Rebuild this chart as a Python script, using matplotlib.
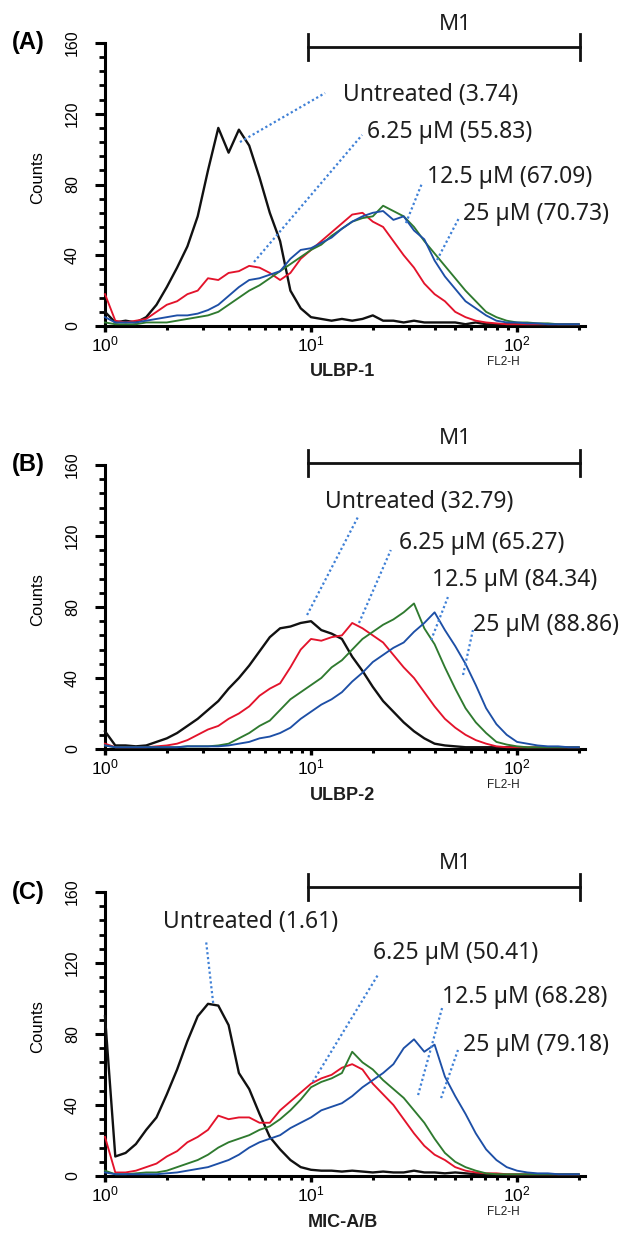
import numpy as np
import matplotlib
matplotlib.use('Agg')
import matplotlib.pyplot as plt
from matplotlib.ticker import FixedLocator, MultipleLocator, NullFormatter
from matplotlib import transforms

# ---------------- data (log10 of fluorescence channel, 0 .. 2.30) ----------------
log_channel = [round(0.05 * i, 2) for i in range(47)]

# Panel A : ULBP-1
A_untreated = [8, 2, 3, 2, 5, 12, 22, 33, 45, 62, 88, 112, 98, 111, 102, 84, 64, 48, 20, 10,
               5, 4, 3, 4, 3, 4, 6, 3, 3, 2, 3, 2, 2, 2, 2, 1, 2, 1, 1, 1, 1, 0.5, 0.5, 0.5, 0.5, 0.5, 0.5]
A_red = [18, 3, 2, 3, 4, 8, 12, 14, 18, 20, 27, 26, 30, 31, 34, 33, 30, 26, 30, 38,
         43, 48, 53, 58, 63, 64, 59, 56, 48, 40, 33, 24, 18, 14, 8, 5, 3, 2, 1.5, 1, 1, 1, 1, 1, 1, 1, 1]
A_green = [2, 1, 1, 1, 2, 2, 2, 3, 4, 5, 6, 8, 12, 16, 20, 23, 27, 31, 35, 39,
           43, 46, 51, 55, 59, 61, 62, 68, 65, 62, 56, 48, 41, 34, 27, 20, 14, 8, 5, 3, 2, 2, 1.5, 1.5, 1, 1, 1]
A_blue = [5, 2, 2, 2, 3, 4, 5, 6, 6, 7, 9, 12, 17, 22, 26, 27, 29, 31, 38, 43,
          44, 47, 50, 55, 59, 62, 64, 65, 60, 62, 54, 49, 37, 28, 21, 14, 10, 6, 3, 2, 2, 1.5, 1.5, 1, 1, 1, 1]

# Panel B : ULBP-2
B_untreated = [10, 2, 2, 1.5, 2, 4, 6, 9, 13, 17, 22, 27, 34, 40, 47, 55, 63, 68, 69, 71,
               72, 67, 65, 62, 52, 44, 35, 27, 21, 15, 10, 6, 3, 2, 1.5, 1, 1, 1, 1, 1, 1, 0.5, 0.5, 0.5, 0.5, 0.5, 0.5]
B_red = [3, 1, 1, 1, 1, 1.5, 2, 3, 5, 8, 11, 13, 17, 20, 24, 30, 34, 37, 46, 56,
         62, 61, 63, 64, 71, 68, 64, 60, 53, 46, 40, 32, 24, 17, 12, 8, 5, 3, 1.5, 1, 1, 1, 1, 1, 1, 1, 1]
B_green = [2, 1, 1, 1, 1, 1, 1, 1, 1.5, 1.5, 1.5, 2, 3, 6, 9, 13, 16, 22, 28, 32,
           36, 40, 46, 50, 56, 62, 66, 70, 73, 77, 82, 68, 59, 46, 34, 23, 15, 9, 4, 2.5, 1.5, 1, 1, 1, 1, 1, 1]
B_blue = [2, 1, 1, 1, 1, 1, 1, 1, 1.5, 1.5, 1.5, 1.5, 2, 3, 4, 6, 7, 9, 12, 17,
          21, 25, 28, 32, 38, 43, 49, 53, 57, 60, 66, 71, 77, 67, 58, 48, 36, 23, 14, 8, 4, 3, 2, 1.5, 1.5, 1, 1]

# Panel C : MIC-A/B
C_untreated = [90, 11, 13, 18, 26, 33, 46, 60, 76, 90, 97, 96, 85, 58, 49, 35, 22, 15, 9, 5,
               3.5, 3, 3, 2.5, 3, 2.5, 2, 2.5, 2, 2, 3, 2, 2, 1.5, 2, 1.5, 1, 1, 1, 0.5, 0.5, 0.5, 0.5, 0.5, 0.5, 0.5, 0.5]
C_red = [22, 2, 2, 3, 5, 7, 11, 14, 19, 22, 26, 34, 32, 33, 33, 30, 30, 37, 42, 47,
         52, 55, 57, 61, 63, 60, 52, 46, 40, 32, 24, 17, 12, 9, 5, 3, 2, 1.5, 1.5, 1, 1, 1, 1, 1, 1, 1, 1]
C_green = [3, 1, 1, 1.5, 2, 2, 3, 5, 7, 9, 12, 16, 19, 21, 23, 26, 28, 32, 37, 43,
           50, 53, 55, 58, 70, 64, 60, 54, 49, 44, 37, 30, 21, 13, 8, 5, 3, 1.5, 1, 1, 1, 1, 1, 1, 1, 1, 1]
C_blue = [2, 1, 1, 1, 1, 1, 1.5, 2, 3, 4, 5, 7, 9, 12, 16, 19, 21, 23, 27, 30,
          33, 37, 39, 41, 45, 50, 54, 58, 63, 72, 77, 70, 74, 56, 45, 35, 24, 15, 9, 5, 3, 2, 1.5, 1.5, 1, 1, 1]

panel_letters = ['(A)', '(B)', '(C)']
marker_names = ['ULBP-1', 'ULBP-2', 'MIC-A/B']
series_colors = ['#111111', '#e3132b', '#2f7a2f', '#1d4fa6']

# annotation labels (text) and their anchor positions (fluorescence, counts)
A_labels = ['Untreated (3.74)', '6.25 \u00b5M (55.83)', '12.5 \u00b5M (67.09)', '25 \u00b5M (70.73)']
B_labels = ['Untreated (32.79)', '6.25 \u00b5M (65.27)', '12.5 \u00b5M (84.34)', '25 \u00b5M (88.86)']
C_labels = ['Untreated (1.61)', '6.25 \u00b5M (50.41)', '12.5 \u00b5M (68.28)', '25 \u00b5M (79.18)']
A_text_x = [14.3, 18.7, 36.6, 54.7]
A_text_y = [130.6, 109.7, 84.2, 63.3]
B_text_x = [11.7, 26.7, 38.7, 61.1]
B_text_y = [139.2, 116.1, 95.2, 69.9]
C_text_x = [1.91, 20.0, 43.3, 54.7]
C_text_y = [143.1, 125.6, 100.9, 73.8]
# leader lines: (x0, y0) on curve -> (x1, y1) near text
A_lead_x0 = [4.52, 5.29, 28.9, 40.9]
A_lead_y0 = [104.0, 36.2, 58.2, 37.3]
A_lead_x1 = [11.7, 17.7, 34.6, 52.3]
A_lead_y1 = [131.7, 108.0, 80.8, 61.1]
B_lead_x0 = [9.57, 17.1, 38.3, 54.7]
B_lead_y0 = [75.5, 71.0, 61.4, 41.7]
B_lead_x1 = [16.9, 24.4, 46.2, 61.1]
B_lead_y1 = [130.7, 112.1, 85.6, 67.0]
C_lead_x0 = [3.35, 10.2, 33.1, 42.8]
C_lead_y0 = [97.5, 53.0, 45.6, 43.9]
C_lead_x1 = [3.09, 21.1, 43.3, 51.7]
C_lead_y1 = [133.0, 113.2, 94.7, 71.0]

# M1 gate
M1_range = [9.67, 202.0]
M1_bar_y = [157.7, 161.1, 162.8]
M1_text_y = [170.2, 175.2, 176.3]

# ---------------- figure ----------------
W, H = 630, 1234
fig = plt.figure(figsize=(W / 100, H / 100), dpi=100)
frames = [(105, 585, 43, 326), (105, 585, 465, 749), (105, 585, 892, 1176)]

text_font = ['Noto Sans', 'DejaVu Sans']
narrow_font = ['Liberation Sans Narrow', 'Liberation Sans', 'DejaVu Sans']
arial = ['Liberation Sans', 'DejaVu Sans']
lead_color = '#3f80d6'
text_color = '#1e1e1e'

all_series = [[A_untreated, A_red, A_green, A_blue],
              [B_untreated, B_red, B_green, B_blue],
              [C_untreated, C_red, C_green, C_blue]]
all_labels = [A_labels, B_labels, C_labels]
all_tx = [A_text_x, B_text_x, C_text_x]
all_ty = [A_text_y, B_text_y, C_text_y]
all_lead = [(A_lead_x0, A_lead_y0, A_lead_x1, A_lead_y1),
            (B_lead_x0, B_lead_y0, B_lead_x1, B_lead_y1),
            (C_lead_x0, C_lead_y0, C_lead_x1, C_lead_y1)]

xs = [10 ** v for v in log_channel]
xmax = 10 ** (480 / 206)

for p, (l, r, t, b) in enumerate(frames):
    ax = fig.add_axes([l / W, 1 - b / H, (r - l) / W, (b - t) / H])
    ax.set_xscale('log')
    ax.set_xlim(1, xmax)
    ax.set_ylim(0, 160)
    for s in ['top', 'right']:
        ax.spines[s].set_visible(False)
    for s in ['left', 'bottom']:
        ax.spines[s].set_linewidth(2.2)
    ax.patch.set_alpha(0)

    # y axis
    ax.yaxis.set_major_locator(FixedLocator([0, 40, 80, 120, 160]))
    ax.yaxis.set_minor_locator(MultipleLocator(8))
    ax.set_yticklabels(['0', '40', '80', '120', '160'], rotation=90, va='center',
                       fontsize=11.5, family=narrow_font)
    ax.tick_params(axis='y', which='major', length=7, width=2.2, pad=11, direction='out')
    ax.tick_params(axis='y', which='minor', length=4, width=2.0, direction='out')

    # x axis
    ax.xaxis.set_major_locator(FixedLocator([1, 10, 100]))
    ax.xaxis.set_minor_locator(FixedLocator([2, 3, 4, 5, 6, 7, 8, 9, 20, 30, 40, 50, 60, 70, 80, 90, 200]))
    ax.xaxis.set_minor_formatter(NullFormatter())
    ax.set_xticklabels([r'$\mathregular{10^0}$', r'$\mathregular{10^1}$', r'$\mathregular{10^2}$'],
                       fontsize=12.5, family=arial)
    ax.tick_params(axis='x', which='major', length=4, width=2.4, pad=2, direction='out')
    ax.tick_params(axis='x', which='minor', length=3, width=2.2, direction='out')

    # histograms
    for k, (ys, c) in enumerate(zip(all_series[p], series_colors)):
        ax.plot(xs, ys, color=c, lw=1.7 if k == 0 else 1.35, zorder=3 + k, clip_on=False)

    # M1 gate
    my = M1_bar_y[p]
    ax.plot(M1_range, [my, my], color='#111111', lw=2.0, clip_on=False, zorder=10)
    for xv in M1_range:
        ax.plot([xv, xv], [my - 7.5, my + 7.5], color='#111111', lw=2.0, clip_on=False, zorder=10)
    ax.text(50.0, M1_text_y[p], 'M1', ha='center', va='center',
            fontsize=16, family=text_font, color=text_color, clip_on=False)

    # leaders and labels
    x0s, y0s, x1s, y1s = all_lead[p]
    for i in range(4):
        ax.plot([x0s[i], x1s[i]], [y0s[i], y1s[i]], color=lead_color, lw=1.6,
                linestyle=(0, (1, 1.2)), zorder=12, clip_on=False)
        ax.text(all_tx[p][i], all_ty[p][i], all_labels[p][i], ha='left', va='center',
                fontsize=16.5, family=text_font, color=text_color, clip_on=False, zorder=13)

    trans = transforms.blended_transform_factory(ax.transData, ax.transAxes)
    ax.text(10 ** 1.155, -46 / 283, marker_names[p], transform=trans, ha='center', va='center',
            fontsize=13, fontweight='bold', family=arial, color=text_color)
    ax.text(10 ** 1.935, -36 / 283, 'FL2-H', transform=trans, ha='center', va='center',
            fontsize=8.5, family=arial, color=text_color)

    # panel letter and y label
    fig.text(12 / W, 1 - t / H, panel_letters[p], ha='left', va='center', fontsize=17,
             fontweight='bold', family=arial)
    fig.text(38 / W, 1 - (t + 135) / H, 'Counts', ha='center', va='center', rotation=90,
             fontsize=12, family=narrow_font)

fig.savefig('out.png', dpi=100, facecolor='white')
